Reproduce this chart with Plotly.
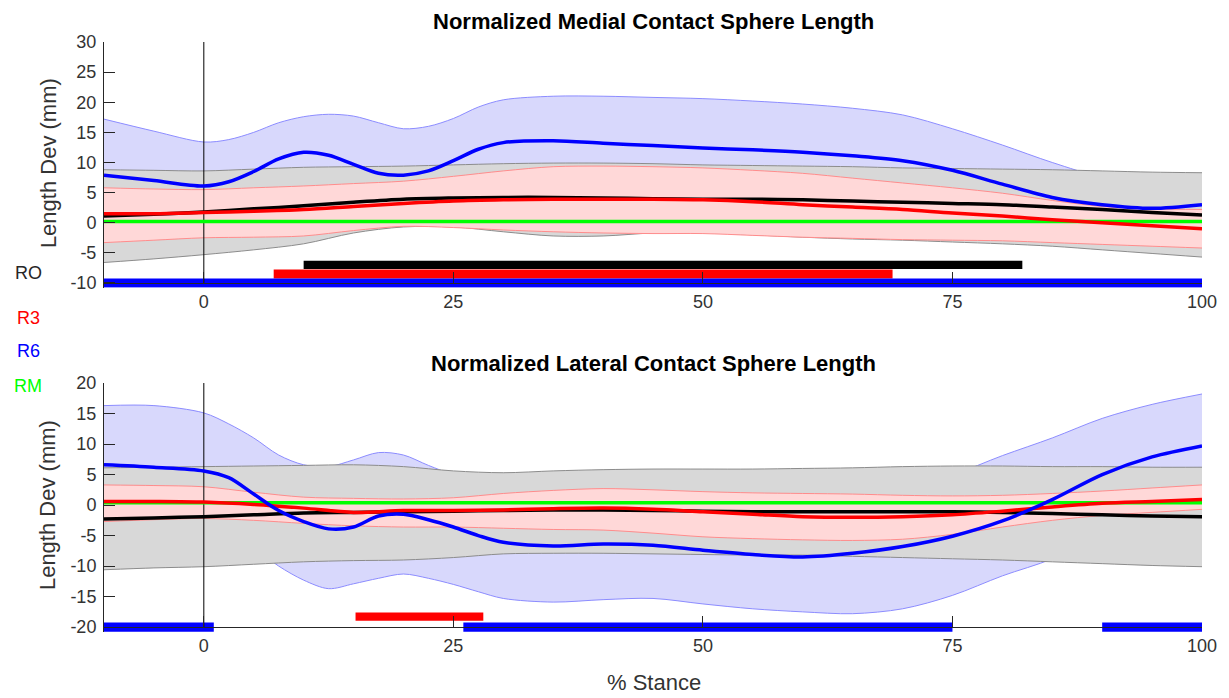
import plotly.graph_objects as go

# ---------------- data ----------------
X_COARSE = [-10, -5, 0, 5, 10, 15, 20, 25, 30, 35, 40, 45, 50, 55, 60, 65, 70, 75, 80, 85, 90, 95, 100]
X_FINE = [-10, -5, 0, 2.5, 5, 7.5, 10, 12.5, 15, 17.5, 20, 22.5, 25, 27.5, 30,
          35, 40, 45, 50, 55, 60, 65, 70, 75, 80, 85, 90, 95, 100]
X_RM = [-10, 100]

# Medial (top panel)
MED_RO_UP = [8.8, 8.7, 8.6, 8.9, 9.2, 9.3, 9.4, 9.6, 9.8, 9.9, 9.9, 9.8, 9.6, 9.5, 9.4, 9.3, 9.1, 9.0, 8.9, 8.8, 8.6, 8.4, 8.3]
MED_RO_LO = [-6.6, -6.0, -5.3, -4.5, -3.5, -1.7, -0.7, -0.7, -1.5, -2.2, -2.2, -1.7, -1.6, -2.0, -2.4, -2.7, -2.9, -3.2, -3.5, -3.9, -4.5, -5.1, -5.7]
MED_RO_MEAN = [1.1, 1.4, 1.8, 2.3, 2.8, 3.4, 3.9, 4.1, 4.2, 4.2, 4.1, 4.0, 3.9, 3.9, 3.8, 3.6, 3.4, 3.2, 3.0, 2.6, 2.2, 1.7, 1.3]
MED_R3_UP = [5.8, 5.6, 5.5, 5.8, 6.1, 6.5, 6.9, 7.7, 8.6, 9.3, 9.4, 9.3, 9.1, 8.7, 8.2, 7.4, 6.6, 5.8, 4.9, 3.7, 2.7, 2.3, 2.2]
MED_R3_LO = [-3.3, -2.9, -2.5, -2.4, -2.2, -1.3, -0.6, -0.8, -1.2, -1.5, -1.7, -1.8, -1.8, -2.1, -2.4, -2.6, -2.8, -2.9, -3.0, -3.3, -3.6, -3.9, -4.2]
MED_R3_MEAN = [1.5, 1.5, 1.7, 1.9, 2.2, 2.7, 3.2, 3.6, 3.8, 3.9, 3.9, 3.9, 3.8, 3.5, 3.0, 2.6, 2.2, 1.6, 1.1, 0.5, 0.0, -0.5, -1.0]
MED_R6_MEAN = [7.9, 7.0, 6.1, 6.8, 8.5, 10.6, 11.7, 11.2, 9.7, 8.2, 7.9, 8.6, 10.3, 12.2, 13.3,
               13.6, 13.2, 12.8, 12.4, 12.1, 11.7, 11.1, 10.3, 8.7, 6.4, 4.2, 3.0, 2.4, 3.0]
MED_R6_UP = [17.2, 15.2, 13.4, 13.8, 15.0, 16.6, 17.6, 18.0, 17.7, 16.6, 15.6, 16.0, 17.3, 19.2, 20.4,
             21.0, 21.0, 20.8, 20.6, 20.2, 19.7, 19.0, 17.9, 15.6, 12.9, 10.0, 7.6, 7.0, 7.0]
MED_R6_LO = [-1.4, -1.2, -1.2, -0.2, 2.0, 4.6, 5.8, 4.4, 1.7, 0.0, 0.2, 1.2, 3.3, 5.2, 6.2,
             6.2, 5.4, 4.8, 4.2, 4.0, 3.7, 3.2, 2.7, 1.8, -0.1, -1.6, -1.6, -2.2, -1.0]
MED_RM = [0.2, 0.2]

# Lateral (bottom panel)
LAT_RO_UP = [6.1, 6.2, 6.3, 6.4, 6.5, 6.6, 6.3, 5.6, 5.3, 5.6, 5.8, 5.9, 5.9, 5.9, 6.0, 6.1, 6.3, 6.4, 6.4, 6.3, 6.3, 6.2, 6.2]
LAT_RO_LO = [-10.6, -10.3, -10.1, -9.7, -9.3, -9.1, -9.0, -8.6, -8.0, -7.9, -7.9, -8.0, -8.1, -8.2, -8.2, -8.4, -8.6, -8.8, -9.0, -9.3, -9.6, -9.9, -10.1]
LAT_RO_MEAN = [-2.3, -2.1, -1.9, -1.6, -1.3, -1.2, -1.1, -1.0, -0.9, -0.8, -0.8, -0.9, -1.0, -1.1, -1.1, -1.1, -1.1, -1.1, -1.2, -1.4, -1.6, -1.8, -1.9]
LAT_R3_UP = [3.3, 3.2, 3.0, 2.1, 1.3, 1.1, 1.0, 1.2, 1.9, 2.4, 2.7, 2.5, 2.2, 2.0, 1.9, 1.8, 1.6, 1.5, 1.6, 1.9, 2.3, 2.8, 3.3]
LAT_R3_LO = [-2.7, -2.4, -2.2, -2.5, -3.0, -3.4, -3.6, -3.6, -3.8, -4.0, -4.1, -4.6, -5.2, -5.5, -5.7, -5.8, -5.6, -4.8, -3.6, -2.5, -1.7, -1.2, -0.7]
LAT_R3_MEAN = [0.6, 0.6, 0.5, 0.1, -0.5, -1.2, -0.9, -0.9, -0.8, -0.6, -0.5, -0.7, -1.1, -1.5, -1.9, -2.0, -1.9, -1.6, -1.0, -0.3, 0.3, 0.6, 0.9]
LAT_R6_MEAN = [6.6, 6.2, 5.6, 4.5, 1.8, -0.9, -2.7, -3.9, -3.6, -1.8, -1.5, -2.4, -3.6, -5.0, -6.1,
               -6.7, -6.4, -6.6, -7.4, -8.1, -8.5, -7.9, -6.8, -5.1, -2.6, 0.9, 5.0, 7.9, 9.7]
LAT_R6_UP = [16.3, 16.3, 15.1, 13.3, 11.0, 8.2, 6.6, 6.3, 7.4, 8.6, 8.2, 6.5, 5.0, 4.2, 3.8,
             3.3, 3.3, 3.0, 2.5, 2.0, 2.0, 2.4, 3.4, 5.0, 8.1, 11.0, 14.2, 16.5, 18.2]
LAT_R6_LO = [-3.1, -4.0, -4.0, -5.0, -7.0, -10.0, -12.3, -13.7, -12.9, -12.0, -11.3, -12.0, -13.0, -14.2, -15.3,
             -15.9, -15.5, -15.3, -16.2, -17.0, -17.5, -17.8, -17.0, -14.8, -11.6, -8.8, -4.6, -0.8, 1.2]
LAT_RM = [0.4, 0.4]

# significance bars: (start, end) in % stance, drawn at a y level
MED_RO_BAR_START, MED_RO_BAR_END, MED_RO_BAR_Y = [10], [82], -7.0
MED_R3_BAR_START, MED_R3_BAR_END, MED_R3_BAR_Y = [7], [69], -8.5
MED_R6_BAR_START, MED_R6_BAR_END, MED_R6_BAR_Y = [-10], [100], -10.0
LAT_R3_BAR_START, LAT_R3_BAR_END, LAT_R3_BAR_Y = [15.2], [28], -18.3
LAT_R6_BAR_START, LAT_R6_BAR_END, LAT_R6_BAR_Y = [-10, 26, 90], [1, 75, 100], -20.0

X_TICKS = [0, 25, 50, 75, 100]
MED_Y_TICKS = [-10, -5, 0, 5, 10, 15, 20, 25, 30]
LAT_Y_TICKS = [-20, -15, -10, -5, 0, 5, 10, 15, 20]
MED_Y_LIMITS = [-10, 30]
LAT_Y_LIMITS = [-20, 20]
X_RANGE = [-10, 100]
STANCE_START = 0

SERIES_NAMES = ["RO", "R3", "R6", "RM"]
SERIES_COLORS = ["#000000", "#ff0000", "#0000ff", "#00ff00"]

# ---------------- styling ----------------
BAND_FILL = {"RO": "rgb(216,216,216)", "R3": "rgb(255,216,216)", "R6": "rgb(216,216,252)"}
BAND_EDGE = {"RO": "rgb(140,140,140)", "R3": "rgb(255,140,140)", "R6": "rgb(140,140,255)"}
AX_COLOR = "#262626"
FONT = "Liberation Sans, Arial, Helvetica, sans-serif"
PAD_BELOW = 0.8   # extra axis room below the lowest limit so the thick bars are not cut

fig = go.Figure()


def add_band(x, up, lo, key, xa, ya):
    fig.add_trace(go.Scatter(x=x, y=up, mode="lines", xaxis=xa, yaxis=ya,
                             line=dict(color=BAND_EDGE[key], width=1, shape="spline", smoothing=0.9),
                             showlegend=False, hoverinfo="skip"))
    fig.add_trace(go.Scatter(x=x, y=lo, mode="lines", xaxis=xa, yaxis=ya, fill="tonexty",
                             fillcolor=BAND_FILL[key],
                             line=dict(color=BAND_EDGE[key], width=1, shape="spline", smoothing=0.9),
                             showlegend=False, hoverinfo="skip"))


def add_line(x, y, color, width, xa, ya):
    fig.add_trace(go.Scatter(x=x, y=y, mode="lines", xaxis=xa, yaxis=ya,
                             line=dict(color=color, width=width, shape="spline", smoothing=0.9),
                             showlegend=False, hoverinfo="skip"))


def add_bars(starts, ends, level, color, width, xa, ya):
    fig.add_trace(go.Bar(orientation="h", y=[level] * len(starts),
                         x=[e - s for s, e in zip(starts, ends)], base=starts,
                         width=width, marker=dict(color=color, line=dict(width=0)),
                         xaxis=xa, yaxis=ya, showlegend=False, hoverinfo="skip"))


def add_vline(yr, xa, ya):
    fig.add_trace(go.Scatter(x=[STANCE_START, STANCE_START], y=yr, mode="lines", xaxis=xa, yaxis=ya,
                             line=dict(color="#000000", width=1), showlegend=False, hoverinfo="skip"))


# top panel
add_band(X_FINE, MED_R6_UP, MED_R6_LO, "R6", "x", "y")
add_band(X_COARSE, MED_RO_UP, MED_RO_LO, "RO", "x", "y")
add_band(X_COARSE, MED_R3_UP, MED_R3_LO, "R3", "x", "y")
add_vline(MED_Y_LIMITS, "x", "y")
add_line(X_RM, MED_RM, SERIES_COLORS[3], 3.5, "x", "y")
add_line(X_COARSE, MED_RO_MEAN, SERIES_COLORS[0], 3.5, "x", "y")
add_line(X_COARSE, MED_R3_MEAN, SERIES_COLORS[1], 3.5, "x", "y")
add_line(X_FINE, MED_R6_MEAN, SERIES_COLORS[2], 3.5, "x", "y")
add_bars(MED_RO_BAR_START, MED_RO_BAR_END, MED_RO_BAR_Y, SERIES_COLORS[0], 1.4, "x", "y")
add_bars(MED_R3_BAR_START, MED_R3_BAR_END, MED_R3_BAR_Y, SERIES_COLORS[1], 1.5, "x", "y")
add_bars(MED_R6_BAR_START, MED_R6_BAR_END, MED_R6_BAR_Y, SERIES_COLORS[2], 1.5, "x", "y")

# bottom panel
add_band(X_FINE, LAT_R6_UP, LAT_R6_LO, "R6", "x2", "y2")
add_band(X_COARSE, LAT_RO_UP, LAT_RO_LO, "RO", "x2", "y2")
add_band(X_COARSE, LAT_R3_UP, LAT_R3_LO, "R3", "x2", "y2")
add_vline(LAT_Y_LIMITS, "x2", "y2")
add_line(X_RM, LAT_RM, SERIES_COLORS[3], 3.5, "x2", "y2")
add_line(X_COARSE, LAT_RO_MEAN, SERIES_COLORS[0], 3.5, "x2", "y2")
add_line(X_COARSE, LAT_R3_MEAN, SERIES_COLORS[1], 3.5, "x2", "y2")
add_line(X_FINE, LAT_R6_MEAN, SERIES_COLORS[2], 3.5, "x2", "y2")
add_bars(LAT_R3_BAR_START, LAT_R3_BAR_END, LAT_R3_BAR_Y, SERIES_COLORS[1], 1.35, "x2", "y2")
add_bars(LAT_R6_BAR_START, LAT_R6_BAR_END, LAT_R6_BAR_Y, SERIES_COLORS[2], 1.5, "x2", "y2")

axis_common = dict(showline=True, linecolor=AX_COLOR, linewidth=1, ticks="inside", ticklen=11,
                   tickcolor=AX_COLOR, tickwidth=1, showgrid=False, zeroline=False, mirror=False,
                   tickfont=dict(family=FONT, size=18, color="#333333"))

# pixel layout: plot area from y=42 to y=632 (590 px tall)
TOP_DOMAIN = [0.5834, 1.0]
BOT_DOMAIN = [0.0, 0.4220]
TOP_XAXIS_POS = 0.5915   # paper height of y = -10 in the top panel
BOT_XAXIS_POS = 0.00847  # paper height of y = -20 in the bottom panel

fig.update_layout(
    width=1229, height=698,
    margin=dict(l=104, r=24, t=42, b=66),
    paper_bgcolor="white", plot_bgcolor="white",
    barmode="overlay", showlegend=False,
    font=dict(family=FONT),
    xaxis=dict(domain=[0, 1], anchor="free", position=TOP_XAXIS_POS, range=X_RANGE, tickvals=X_TICKS,
               ticktext=[str(v) for v in X_TICKS], ticklabelstandoff=2, **axis_common),
    yaxis=dict(domain=TOP_DOMAIN, anchor="x", range=[MED_Y_LIMITS[0] - PAD_BELOW, MED_Y_LIMITS[1]],
               tickvals=MED_Y_TICKS, ticktext=[str(v) for v in MED_Y_TICKS], ticklabelstandoff=3, **axis_common),
    xaxis2=dict(domain=[0, 1], anchor="free", position=BOT_XAXIS_POS, range=X_RANGE, tickvals=X_TICKS,
                ticktext=[str(v) for v in X_TICKS], ticklabelstandoff=2, **axis_common),
    yaxis2=dict(domain=BOT_DOMAIN, anchor="x2", range=[LAT_Y_LIMITS[0] - PAD_BELOW, LAT_Y_LIMITS[1]],
                tickvals=LAT_Y_TICKS, ticktext=[str(v) for v in LAT_Y_TICKS], ticklabelstandoff=3, **axis_common),
)

annotations = [
    dict(text="<b>Normalized Medial Contact Sphere Length</b>", x=0.5, y=1.0339, xref="paper", yref="paper",
         showarrow=False, xanchor="center", yanchor="middle", font=dict(size=22, color="#000000", family=FONT)),
    dict(text="<b>Normalized Lateral Contact Sphere Length</b>", x=0.5, y=0.4559, xref="paper", yref="paper",
         showarrow=False, xanchor="center", yanchor="middle", font=dict(size=22, color="#000000", family=FONT)),
    dict(text="Length Dev (mm)", x=-0.0509, y=0.7949, xref="paper", yref="paper", textangle=-90,
         showarrow=False, xanchor="center", yanchor="middle", font=dict(size=22, color="#333333", family=FONT)),
    dict(text="Length Dev (mm)", x=-0.0509, y=0.2153, xref="paper", yref="paper", textangle=-90,
         showarrow=False, xanchor="center", yanchor="middle", font=dict(size=22, color="#333333", family=FONT)),
    dict(text="% Stance", x=0.5005, y=-0.0864, xref="paper", yref="paper",
         showarrow=False, xanchor="center", yanchor="middle", font=dict(size=22, color="#333333", family=FONT)),
]
legend_y = [0.6085, 0.5322, 0.4763, 0.4169]
for name, color, ly in zip(SERIES_NAMES, SERIES_COLORS, legend_y):
    annotations.append(dict(text=name, x=-0.069, y=ly, xref="paper", yref="paper", showarrow=False,
                            xanchor="center", yanchor="middle",
                            font=dict(size=18, color=("#262626" if name == "RO" else color), family=FONT)))
fig.update_layout(annotations=annotations)

fig.write_html("out.html", config={"displayModeBar": False},
               post_script="document.body.style.margin='0';document.body.style.overflow='hidden';")
